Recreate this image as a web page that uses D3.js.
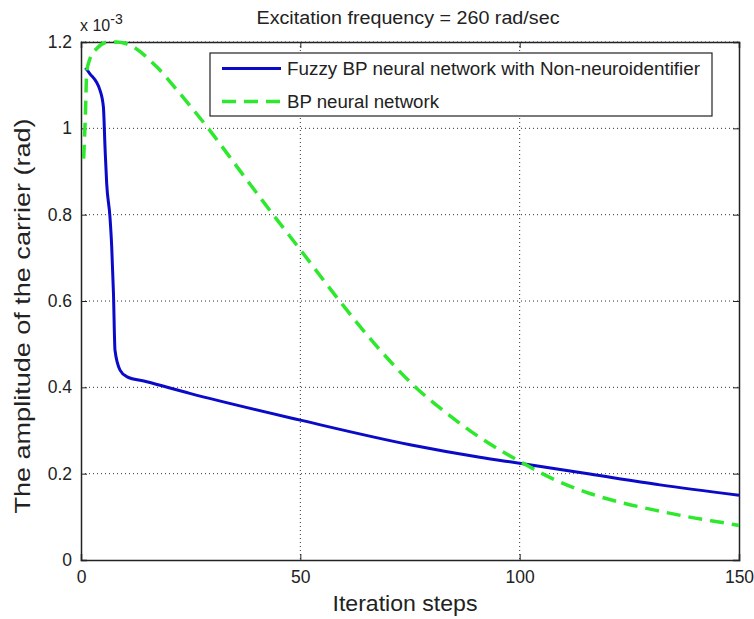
<!DOCTYPE html>
<html>
<head>
<meta charset="utf-8">
<script src="https://cdn.jsdelivr.net/npm/d3@7"></script>
<style>
  body { margin: 0; background: #fff; }
  text { font-family: "Liberation Sans", Arial, sans-serif; fill: #222; }
</style>
</head>
<body>
<svg id="chart" width="754" height="619"></svg>
<script>
// values in units of 1e-3 rad
const fuzzySteps = [1, 2, 4.3, 5.1, 5.5, 5.85, 6.6, 7.0, 7.4, 7.75, 8.9, 10.4, 15, 24.8, 50, 75, 90.9, 100, 116, 132, 150];
const fuzzyAmp = [1.14, 1.127, 1.089, 1.05, 0.95, 0.873, 0.795, 0.726, 0.618, 0.486, 0.44, 0.425, 0.413, 0.386, 0.324, 0.267, 0.238, 0.224, 0.199, 0.174, 0.15];

const bpSteps = [0.6, 1, 1.3, 2, 3.6, 6.3, 8.1, 10.4, 17.2, 22.6, 29, 36, 43.8, 49.9, 58.8, 67, 76.5, 83, 90.9, 100.8, 108, 116, 124, 132, 140, 147.2, 150];
const bpAmp = [0.93, 1.03, 1.13, 1.16, 1.185, 1.2, 1.2, 1.196, 1.143, 1.08, 1.0, 0.905, 0.8, 0.72, 0.602, 0.5, 0.398, 0.343, 0.284, 0.224, 0.186, 0.154, 0.131, 0.113, 0.097, 0.085, 0.08];

const xTicks = [0, 50, 100, 150];
const yTicks = [0, 0.2, 0.4, 0.6, 0.8, 1, 1.2];
const seriesNames = ["Fuzzy BP neural network with Non-neuroidentifier", "BP neural network"];

const svg = d3.select("#chart");
const m = {left: 81, right: 739, top: 42, bottom: 560};

const x = d3.scaleLinear().domain([0, 150]).range([m.left, m.right]);
const y = d3.scaleLinear().domain([0, 1.2]).range([m.bottom, m.top]);

// grid
const grid = svg.append("g");
grid.selectAll(".gx").data(xTicks.slice(1, -1)).enter().append("line")
  .attr("x1", d => x(d)).attr("x2", d => x(d))
  .attr("y1", m.top).attr("y2", m.bottom)
  .attr("stroke", "#333").attr("stroke-width", 1).attr("stroke-dasharray", "1,3");
grid.selectAll(".gy").data(yTicks.slice(1)).enter().append("line")
  .attr("x1", m.left).attr("x2", m.right)
  .attr("y1", d => y(d)).attr("y2", d => y(d))
  .attr("stroke", "#333").attr("stroke-width", 1).attr("stroke-dasharray", "1,3");

// axes (ticks inward, box)
const fmt = d => d === 0 ? "0" : d3.format("~g")(d);
svg.append("g").attr("transform", `translate(0,${m.bottom})`)
  .call(d3.axisBottom(x).tickValues(xTicks).tickSize(-6).tickPadding(11).tickFormat(fmt));
svg.append("g").attr("transform", `translate(${m.left},0)`)
  .call(d3.axisLeft(y).tickValues(yTicks).tickSize(-6).tickPadding(9).tickFormat(fmt));
svg.append("g").attr("transform", `translate(0,${m.top})`)
  .call(d3.axisTop(x).tickValues(xTicks).tickSize(-6).tickFormat(""));
svg.append("g").attr("transform", `translate(${m.right},0)`)
  .call(d3.axisRight(y).tickValues(yTicks).tickSize(-6).tickFormat(""));
svg.selectAll(".domain").attr("stroke", "#222").attr("stroke-width", 1.5);
svg.selectAll(".tick line").attr("stroke", "#222");
svg.selectAll(".tick text").style("font-size", "17.5px").attr("fill", "#222");

// lines
const line = d3.line().x(d => x(d[0])).y(d => y(d[1])).curve(d3.curveMonotoneX);
const fuzzy = fuzzySteps.map((s, i) => [s, fuzzyAmp[i]]);
const bp = bpSteps.map((s, i) => [s, bpAmp[i]]);

svg.append("path").datum(fuzzy).attr("d", line)
  .attr("fill", "none").attr("stroke", "#0a0ac8").attr("stroke-width", 3);
svg.append("path").datum(bp).attr("d", line)
  .attr("fill", "none").attr("stroke", "#2ee82e").attr("stroke-width", 3.5)
  .attr("stroke-dasharray", "14,8");

// legend
const lg = svg.append("g");
lg.append("rect").attr("x", 210).attr("y", 53).attr("width", 502).attr("height", 63)
  .attr("fill", "#fff").attr("stroke", "#222").attr("stroke-width", 1.2);
const legStyles = [
  {stroke: "#0a0ac8", w: 3, dash: null, len: 413},
  {stroke: "#2ee82e", w: 3.5, dash: "14,8", len: 152}
];
seriesNames.forEach((name, i) => {
  const ly = 68.5 + i * 33;
  lg.append("line").attr("x1", 222).attr("x2", 281).attr("y1", ly).attr("y2", ly)
    .attr("stroke", legStyles[i].stroke).attr("stroke-width", legStyles[i].w)
    .attr("stroke-dasharray", legStyles[i].dash);
  lg.append("text").attr("x", 287).attr("y", ly + 6.5).style("font-size", "18px")
    .attr("textLength", legStyles[i].len).attr("lengthAdjust", "spacingAndGlyphs").text(name);
});

// title and labels
svg.append("text").attr("x", 408).attr("y", 24).attr("text-anchor", "middle")
  .style("font-size", "18px").attr("textLength", 303).attr("lengthAdjust", "spacingAndGlyphs")
  .text("Excitation frequency = 260 rad/sec");
svg.append("text").attr("x", 405).attr("y", 611).attr("text-anchor", "middle")
  .style("font-size", "22px").attr("textLength", 145).attr("lengthAdjust", "spacingAndGlyphs")
  .text("Iteration steps");
svg.append("text").attr("transform", "translate(30,316) rotate(-90)").attr("text-anchor", "middle")
  .style("font-size", "22.5px").attr("textLength", 395).attr("lengthAdjust", "spacingAndGlyphs")
  .text("The amplitude of the carrier (rad)");

const exp = svg.append("text").attr("x", 80).attr("y", 31).style("font-size", "16px");
exp.append("tspan").text("x 10");
exp.append("tspan").attr("dy", -7).style("font-size", "14px").text("-3");
</script>
</body>
</html>
